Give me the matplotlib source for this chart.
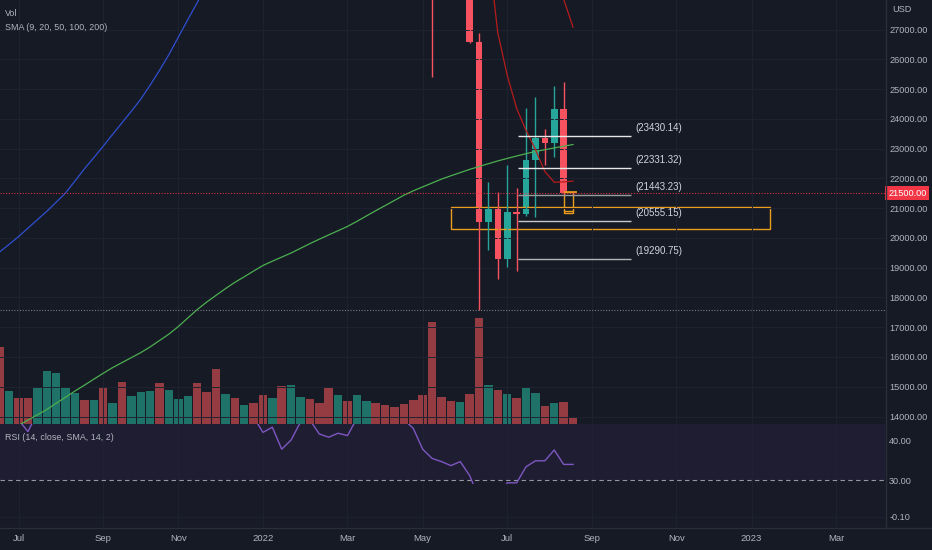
import numpy as np
import pandas as pd
import matplotlib
matplotlib.use('Agg')
import matplotlib.pyplot as plt
import matplotlib.dates as mdates
from matplotlib.lines import Line2D
from matplotlib.patches import Rectangle
from matplotlib.transforms import blended_transform_factory

# weekly bars, first one is the week of 2021-06-21
weeks = pd.date_range('2021-06-21', periods=62, freq='7D')

# volume (thousand BTC) and direction of each weekly bar
volume = [307, 133, 104, 104, 143, 213, 204, 143, 123, 96,
          96, 147, 85, 168, 112, 128, 131, 163, 137, 101,
          112, 165, 128, 220, 120, 104, 76, 83, 115, 103,
          152, 156, 108, 101, 85, 143, 115, 93, 115, 93,
          85, 76, 68, 81, 96, 115, 407, 108, 93, 87,
          120, 423, 156, 135, 120, 104, 144, 124, 72, 83,
          88, 23]
vol_dir = 'rgrrgggggr' 'grgrgggrgg' 'grrrgrgrrg' 'rggrrrgrgg' 'rrrrrrrrrg' 'rrgrgrggrg' 'rr'

# candles from the week of 2022-05-09 on (earlier ones sit above the visible range)
c_open = [34060, 31330, 29450, 28630, 29900, 26590, 20540, 21030, 19290, 20880,
          20800, 22600, 23350, 23200, 24330, 21520]
c_high = [34240, 31400, 30640, 32400, 31700, 26870, 21890, 21550, 22450, 21670,
          24350, 24720, 23650, 25100, 25250, 21560]
c_low = [25400, 28650, 28020, 28620, 26560, 17580, 19590, 18610, 19030, 18900,
         20750, 20710, 22450, 22710, 21480, 21460]
c_close = [31330, 29450, 28630, 29900, 26590, 20540, 21030, 19290, 20880, 20800,
           22600, 23350, 23200, 24330, 21520, 21500]

# moving averages
sma200 = [13400, 13550, 13705, 13880, 14058, 14236, 14444, 14649, 14857, 15052,
          15254, 15452, 15643, 15811, 15979, 16147, 16339, 16554, 16769, 17024,
          17309, 17591, 17840, 18068, 18293, 18505, 18693, 18885, 19073, 19217,
          19355, 19493, 19650, 19808, 19956, 20101, 20242, 20386, 20554, 20735,
          20913, 21085, 21259, 21434, 21582, 21713, 21844, 21975, 22086, 22193,
          22301, 22398, 22492, 22586, 22670, 22751, 22828, 22905, 22962, 23023,
          23080, 23137]
sma100 = [19533, 19785, 20044, 20329, 20611, 20893, 21199, 21511, 21911, 22318,
          22694, 23080, 23476, 23866, 24256, 24659, 25132, 25630, 26160, 26745,
          27326, 27900, 28480, 29100]
sma9 = [31000, 29600, 26880, 25460, 24350, 23610, 22970, 22230, 21870, 21880, 21910]
sma20 = [29000, 28020, 27080]

nan = np.nan
rsi = [nan, nan, 45.0, 42.1, 46.9, nan, nan, nan, nan, nan,
       nan, nan, nan, nan, nan, nan, nan, nan, nan, nan,
       nan, nan, nan, nan, nan, nan, nan, 45.8, 41.9, 43.2,
       37.7, 40.0, 44.5, 45.0, 41.5, 40.7, 41.7, 41.1, 45.4, nan,
       nan, nan, nan, 45.1, 42.9, 37.7, 35.4, 34.6, 33.6, 34.6,
       31.1, 25.5, 27.0, 26.0, 29.3, 29.3, 33.3, 34.8, 34.8, 37.5,
       33.9, 33.9]

# drawings
levels = [23430.14, 22331.32, 21443.23, 20555.15, 19290.75]
level_colors = ['#e6e6e6', '#e6e6e6', '#9a9a9a', '#c8c8c8', '#b4b4b4']
level_start, level_end = '2022-07-12', '2022-10-04'
zone = ('2022-05-23', '2023-01-16', 20299, 21048)
box_now = ('2022-08-15 12:00', '2022-08-22 06:00', 20826, 21552, 20913)
last_price = 21500
swing_low = 17580

month_ticks = ['2021-07-05', '2021-09-06', '2021-11-01', '2022-01-03', '2022-03-07',
               '2022-05-02', '2022-07-04', '2022-09-05', '2022-11-07', '2023-01-02',
               '2023-03-06']
month_labels = ['Jul', 'Sep', 'Nov', '2022', 'Mar', 'May', 'Jul', 'Sep', 'Nov', '2023', 'Mar']

BG = '#161a25'
GRID = '#1f2331'
TXT = '#b2b5be'
UP, DOWN = '#26a69a', '#f7525f'
VUP, VDOWN = '#1f7268', '#953c42'
FS = 6.6

plt.rcParams['font.family'] = ['Liberation Sans', 'DejaVu Sans']

W, H = 932, 550
fig = plt.figure(figsize=(W / 100, H / 100), dpi=100, facecolor=BG)


def pane(top, bottom, right=885):
    return [0, 1 - bottom / H, right / W, (bottom - top) / H]


ax_vol = fig.add_axes(pane(0, 424))
ax = fig.add_axes(pane(0, 424), sharex=ax_vol)
ax_rsi = fig.add_axes(pane(424, 483.5), sharex=ax_vol)
ax_low = fig.add_axes(pane(483.5, 527), sharex=ax_vol)

wx = mdates.date2num(weeks)
tx = mdates.date2num(pd.to_datetime(month_ticks))

# volume overlay
ax_vol.set_facecolor(BG)
ax_vol.bar(wx, volume, width=6.3, color=[VUP if d == 'g' else VDOWN for d in vol_dir])
ax_vol.set_ylim(0, max(volume) / 0.25)
ax_vol.axis('off')

# price pane
ax.set_facecolor('none')
cx = wx[46:]
cols = [UP if c >= o else DOWN for o, c in zip(c_open, c_close)]
ax.vlines(cx, c_low, c_high, colors=cols, lw=1)
ax.bar(cx, [max(abs(c - o), 25) for o, c in zip(c_open, c_close)],
       bottom=[min(o, c) for o, c in zip(c_open, c_close)], width=4.9, color=cols)

ax.plot(wx, sma200, color='#4caf50', lw=0.9)
ax.plot(wx[:len(sma100)], sma100, color='#2f4fd0', lw=0.9)
ax.plot(wx[51:], sma9, color='#b71c1c', lw=0.9)
ax.plot(wx[-len(sma20):], sma20, color='#b71c1c', lw=0.9)

ax.axhline(last_price, color='#f23645', lw=0.8, ls=(0, (1, 1.5)), alpha=0.85)
ax.axhline(swing_low, color='#787b86', lw=0.8, ls=(0, (1, 1.5)))

z0, z1 = mdates.date2num(pd.to_datetime(zone[:2]))
ax.add_patch(Rectangle((z0, zone[2]), z1 - z0, zone[3] - zone[2],
                       facecolor='none', edgecolor='#eb9c1c', lw=1))

b0, b1 = mdates.date2num(pd.to_datetime(box_now[:2]))
ax.add_patch(Rectangle((b0, box_now[2]), b1 - b0, box_now[3] - box_now[2],
                       facecolor='none', edgecolor='#eb9c1c', lw=1))
ax.hlines(box_now[4], b0, b1, color='#eb9c1c', lw=1)
ax.hlines(box_now[3], b0, b1 + 3, color='#eb9c1c', lw=1.2)

l0, l1 = mdates.date2num(pd.to_datetime([level_start, level_end]))
for v, col in zip(levels, level_colors):
    ax.hlines(v, l0, l1, color=col, lw=1)
    ax.annotate(f'({v:.2f})', (l1, v), xytext=(3.6, 2.2), textcoords='offset points',
                ha='left', va='bottom', fontsize=7, color='#d1d4dc')

ax.set_ylim(13749, 27991)
ax.set_xlim(mdates.date2num(pd.Timestamp('2021-06-21 03:30')),
            mdates.date2num(pd.Timestamp('2023-04-11 09:30')))
ax.yaxis.tick_right()
ax.set_yticks(range(14000, 27001, 1000))
ax.set_yticklabels([f'{v:.2f}' for v in range(14000, 27001, 1000)])
ax.set_xticks(tx)
ax.tick_params(axis='y', length=0, pad=3, labelsize=FS, labelcolor=TXT)
ax.tick_params(axis='x', length=0, labelbottom=False)
ax.grid(color=GRID, lw=0.7)
for s in ax.spines.values():
    s.set_visible(False)

trans = blended_transform_factory(ax.transAxes, ax.transData)
ax.text(1.0035, last_price, f'{last_price:.2f}', transform=trans, ha='left', va='center',
        fontsize=FS, color='white', clip_on=False,
        bbox=dict(boxstyle='square,pad=0.3', facecolor='#f23645', edgecolor='none'))

# RSI pane
ax_rsi.set_facecolor('#191a28')
ax_rsi.axhspan(30, 70, color='#1f1d32', lw=0)
ax_rsi.axhline(30, color='#9598a1', lw=0.8, ls=(0, (4, 3)))
ax_rsi.plot(wx, rsi, color='#7e57c2', lw=1)
ax_rsi.set_ylim(29.125, 44)
ax_rsi.yaxis.tick_right()
ax_rsi.set_yticks([30, 40])
ax_rsi.set_yticklabels(['30.00', '40.00'])
ax_rsi.tick_params(axis='y', length=0, pad=3, labelsize=FS, labelcolor=TXT)
ax_rsi.tick_params(axis='x', length=0, labelbottom=False)
ax_rsi.grid(axis='x', color=GRID, lw=0.7)
for s in ax_rsi.spines.values():
    s.set_visible(False)

# lower empty pane with the time axis
ax_low.set_facecolor('#181a27')
ax_low.set_ylim(-0.15, 0.064)
ax_low.yaxis.tick_right()
ax_low.set_yticks([-0.1])
ax_low.set_yticklabels(['-0.10'])
ax_low.set_xticks(tx)
ax_low.set_xticklabels(month_labels)
ax_low.tick_params(axis='y', length=0, pad=3, labelsize=FS, labelcolor=TXT)
ax_low.tick_params(axis='x', length=0, pad=5, labelsize=6.8, labelcolor=TXT)
ax_low.grid(color=GRID, lw=0.7)
for s in ax_low.spines.values():
    s.set_visible(False)

# separators and legends
fig.add_artist(Line2D([0, 1], [1 - 527.5 / H] * 2, color='#2a2e39', lw=1))
fig.add_artist(Line2D([885.5 / W] * 2, [1 - 527.5 / H, 1], color='#2a2e39', lw=1))
fig.text(5 / W, 1 - 13 / H, 'Vol', fontsize=6.4, color=TXT, va='center')
fig.text(5 / W, 1 - 28 / H, 'SMA (9, 20, 50, 100, 200)', fontsize=6.4, color=TXT, va='center')
fig.text(5 / W, 1 - 437 / H, 'RSI (14, close, SMA, 14, 2)', fontsize=6.4, color=TXT, va='center')
fig.text(892 / W, 1 - 10 / H, 'USD', fontsize=FS, color=TXT, va='center')

fig.savefig('out.png', dpi=100, facecolor=BG)
